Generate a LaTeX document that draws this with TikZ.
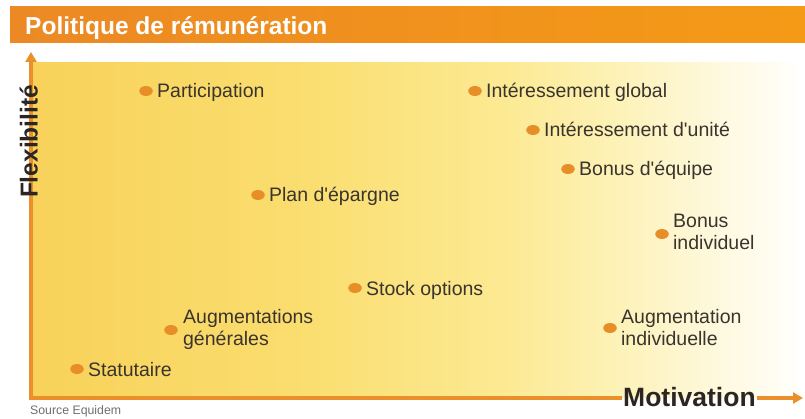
\documentclass[tikz,border=0pt]{standalone}
\usepackage{fontspec}
\setmainfont{Liberation Sans}[Ligatures=TeXOff]
\usetikzlibrary{arrows.meta,shapes.geometric,calc}

\definecolor{barorangeL}{RGB}{236,137,36}
\definecolor{barorangeR}{RGB}{244,154,22}
\definecolor{axisorange}{RGB}{234,143,42}
\definecolor{dotorange}{RGB}{232,142,40}
\definecolor{labeltext}{RGB}{58,52,46}
\definecolor{axistext}{RGB}{44,38,34}
\definecolor{sourcegray}{RGB}{112,112,112}
\definecolor{ylA}{RGB}{248,210,90}
\definecolor{ylB}{RGB}{250,222,112}
\definecolor{ylC}{RGB}{252,234,148}
\definecolor{ylD}{RGB}{253,242,184}
\definecolor{ylE}{RGB}{254,248,220}
\definecolor{ylF}{RGB}{255,253,242}

% background of the plotting area: warm yellow fading to cream on the right
\pgfdeclarehorizontalshading{plotbg}{100bp}{%
  color(0bp)=(ylA); color(25bp)=(ylA); color(43bp)=(ylB);
  color(56bp)=(ylC); color(63bp)=(ylD); color(69bp)=(ylE);
  color(73bp)=(ylF); color(75bp)=(white); color(100bp)=(white)}
\pgfdeclarehorizontalshading{barshade}{100bp}{%
  color(0bp)=(barorangeL); color(25bp)=(barorangeL);
  color(75bp)=(barorangeR); color(100bp)=(barorangeR)}

\begin{document}
\begin{tikzpicture}[x=1pt,y=-1pt,
  axisline/.style={draw=axisorange,line width=3.2pt},
  axistip/.style={-{Triangle[width=11pt,length=10pt]}},
  pt/.style={ellipse,fill=dotorange,minimum width=13.5pt,minimum height=10pt,inner sep=0pt},
  lbl/.style={anchor=base west,inner sep=0pt,text=labeltext,font=\fontsize{19.5}{21}\selectfont},
  lbltwo/.style={anchor=west,inner sep=0pt,align=left,text=labeltext,font=\fontsize{19.5}{22}\selectfont},
  axlbl/.style={text=axistext,font=\bfseries\fontsize{24.5}{28}\selectfont},
]
\useasboundingbox (0,0) rectangle (805,419);
\fill[white] (0,0) rectangle (805,419);

% title bar
\shade[shading=barshade] (10,7) rectangle (805,43);
\node[anchor=base west,inner sep=0pt,text=white,font=\bfseries\fontsize{24.5}{28}\selectfont]
  (title) at (25,35) {Politique de rémunération};

% plotting area
\shade[shading=plotbg] (32,63) rectangle (805,397);

% axes
\coordinate (O) at (31,398);
\coordinate (Ostart) at (29.4,398);
\coordinate (ytip) at (31,52);
\coordinate (xtip) at (803,398);
\draw[axisline,axistip] (O) -- (ytip);
\node[axlbl,font=\bfseries\fontsize{26.5}{30}\selectfont,anchor=base west,inner xsep=1pt,inner ysep=0pt]
  (mot) at (622,406) {Motivation};
\draw[axisline] (Ostart) -- (mot.west |- O);
\draw[axisline,axistip] (mot.east |- O) -- (xtip);
\node[axlbl,rotate=90,anchor=base,inner sep=0pt] (flex) at (37.5,141.5) {Flexibilité};

% points
\node[pt] (p1)  at (146,91)  {};
\node[pt] (p2)  at (258,195) {};
\node[pt] (p3)  at (355,288) {};
\node[pt] (p4)  at (171,330) {};
\node[pt] (p5)  at (77,369)  {};
\node[pt] (p6)  at (475,91)  {};
\node[pt] (p7)  at (533,130) {};
\node[pt] (p8)  at (568,169) {};
\node[pt] (p9)  at (662,234) {};
\node[pt] (p10) at (610,328) {};

% labels
\node[lbl] (l1) at ($(p1.east)+(4,7)$) {Participation};
\node[lbl] (l2) at ($(p2.east)+(4,7)$) {Plan d'épargne};
\node[lbl] (l3) at ($(p3.east)+(4,7)$) {Stock options};
\node[lbltwo] (l4) at ($(p4.east)+(5,-1)$) {Augmentations\\générales};
\node[lbl] (l5) at ($(p5.east)+(4,7)$) {Statutaire};
\node[lbl] (l6) at ($(p6.east)+(4,7)$) {Intéressement global};
\node[lbl] (l7) at ($(p7.east)+(4,7)$) {Intéressement d'unité};
\node[lbl] (l8) at ($(p8.east)+(4,7)$) {Bonus d'équipe};
\node[lbltwo] (l9) at ($(p9.east)+(4,-2)$) {Bonus\\individuel};
\node[lbltwo] (l10) at ($(p10.east)+(4,0)$) {Augmentation\\individuelle};

% source
\node[anchor=base west,inner sep=0pt,text=sourcegray,font=\fontsize{12.3}{14}\selectfont]
  (src) at (30,414) {Source Equidem};
\end{tikzpicture}
\end{document}
